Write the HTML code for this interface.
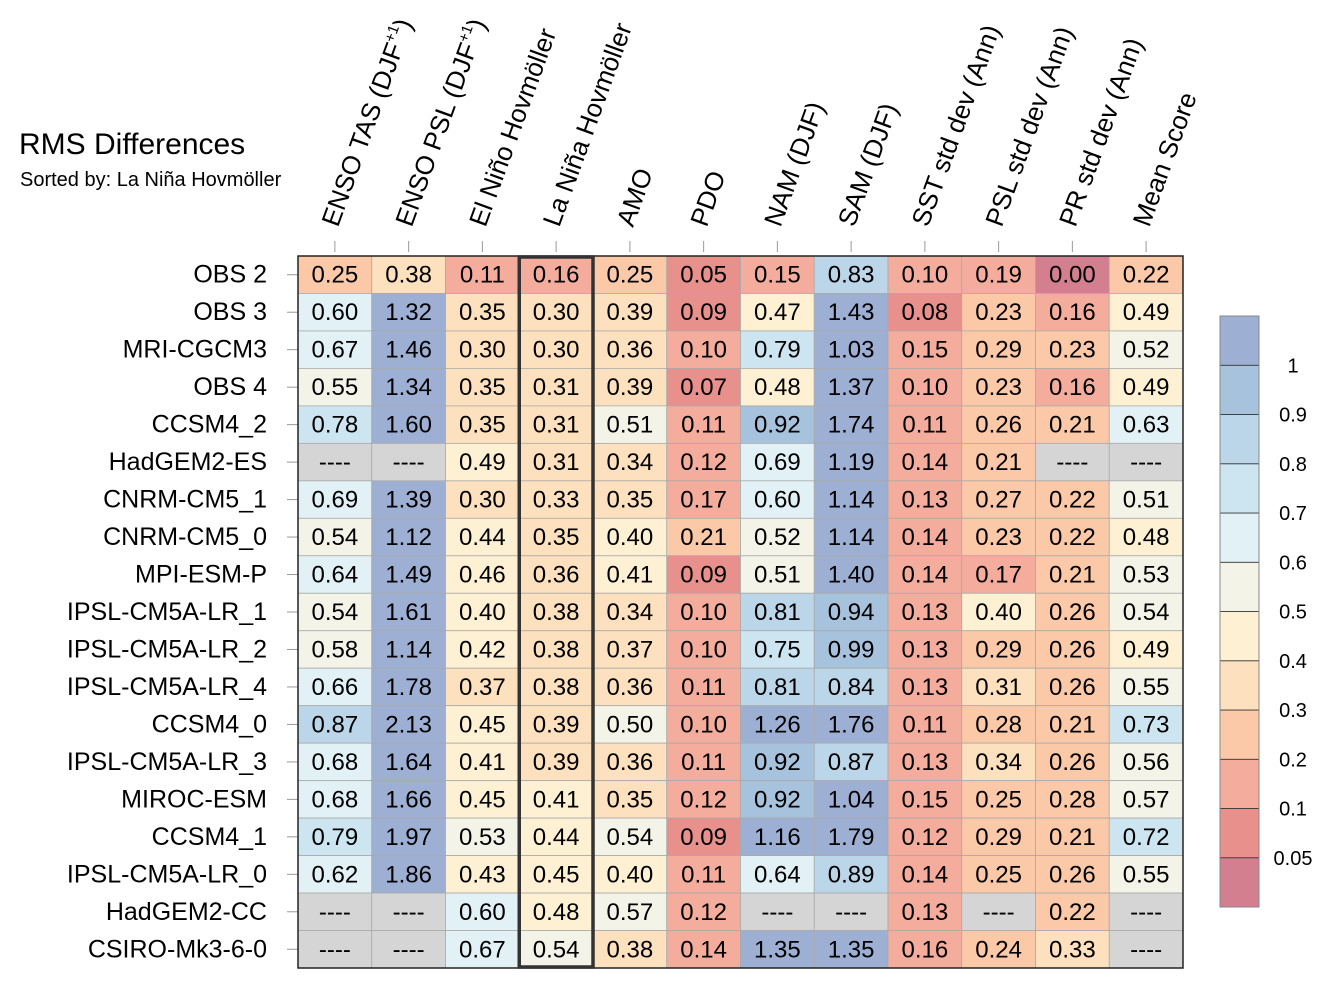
<!DOCTYPE html>
<html><head><meta charset="utf-8"><style>
body{margin:0;background:#fff;}
svg{font-family:"Liberation Sans",sans-serif;}
</style></head><body>
<svg id="chart" width="1335" height="989" xmlns="http://www.w3.org/2000/svg">
<text x="19" y="154" font-size="30">RMS Differences</text>
<text x="20" y="186" font-size="20">Sorted by: La Niña Hovmöller</text>
</svg>
<script>
const columns = ["ENSO TAS (DJF+1)","ENSO PSL (DJF+1)","El Niño Hovmöller","La Niña Hovmöller","AMO","PDO","NAM (DJF)","SAM (DJF)","SST std dev (Ann)","PSL std dev (Ann)","PR std dev (Ann)","Mean Score"];
const rows = ["OBS 2","OBS 3","MRI-CGCM3","OBS 4","CCSM4_2","HadGEM2-ES","CNRM-CM5_1","CNRM-CM5_0","MPI-ESM-P","IPSL-CM5A-LR_1","IPSL-CM5A-LR_2","IPSL-CM5A-LR_4","CCSM4_0","IPSL-CM5A-LR_3","MIROC-ESM","CCSM4_1","IPSL-CM5A-LR_0","HadGEM2-CC","CSIRO-Mk3-6-0"];
const values = [
[0.25,0.38,0.11,0.16,0.25,0.05,0.15,0.83,0.10,0.19,0.00,0.22],
[0.60,1.32,0.35,0.30,0.39,0.09,0.47,1.43,0.08,0.23,0.16,0.49],
[0.67,1.46,0.30,0.30,0.36,0.10,0.79,1.03,0.15,0.29,0.23,0.52],
[0.55,1.34,0.35,0.31,0.39,0.07,0.48,1.37,0.10,0.23,0.16,0.49],
[0.78,1.60,0.35,0.31,0.51,0.11,0.92,1.74,0.11,0.26,0.21,0.63],
[null,null,0.49,0.31,0.34,0.12,0.69,1.19,0.14,0.21,null,null],
[0.69,1.39,0.30,0.33,0.35,0.17,0.60,1.14,0.13,0.27,0.22,0.51],
[0.54,1.12,0.44,0.35,0.40,0.21,0.52,1.14,0.14,0.23,0.22,0.48],
[0.64,1.49,0.46,0.36,0.41,0.09,0.51,1.40,0.14,0.17,0.21,0.53],
[0.54,1.61,0.40,0.38,0.34,0.10,0.81,0.94,0.13,0.40,0.26,0.54],
[0.58,1.14,0.42,0.38,0.37,0.10,0.75,0.99,0.13,0.29,0.26,0.49],
[0.66,1.78,0.37,0.38,0.36,0.11,0.81,0.84,0.13,0.31,0.26,0.55],
[0.87,2.13,0.45,0.39,0.50,0.10,1.26,1.76,0.11,0.28,0.21,0.73],
[0.68,1.64,0.41,0.39,0.36,0.11,0.92,0.87,0.13,0.34,0.26,0.56],
[0.68,1.66,0.45,0.41,0.35,0.12,0.92,1.04,0.15,0.25,0.28,0.57],
[0.79,1.97,0.53,0.44,0.54,0.09,1.16,1.79,0.12,0.29,0.21,0.72],
[0.62,1.86,0.43,0.45,0.40,0.11,0.64,0.89,0.14,0.25,0.26,0.55],
[null,null,0.60,0.48,0.57,0.12,null,null,0.13,null,0.22,null],
[null,null,0.67,0.54,0.38,0.14,1.35,1.35,0.16,0.24,0.33,null]
];
const levels = [0.05,0.1,0.2,0.3,0.4,0.5,0.6,0.7,0.8,0.9,1];
const levelLabels = ["0.05","0.1","0.2","0.3","0.4","0.5","0.6","0.7","0.8","0.9","1"];
const palette = ["#d47f90","#e8908c","#f4ad9c","#fbc8a8","#fde0bd","#fdf0d3","#f3f3e8","#e2f1f6","#cce5f0","#bbd6e9","#a7c2dd","#9dafd3"];
const sortedCol = 3;

const NS="http://www.w3.org/2000/svg";
const svg=document.getElementById('chart');
const X0=298,X1=1183,Y0=256,Y1=968;
const cw=(X1-X0)/columns.length, rh=(Y1-Y0)/rows.length;
const xPos=i=>X0+i*cw, yPos=j=>Y0+j*rh;
function mk(t,a,p){const e=document.createElementNS(NS,t);for(const k in a)e.setAttribute(k,a[k]);(p||svg).appendChild(e);return e;}
function colorFor(v){let b=0;for(let k=0;k<levels.length;k++){if(v>=levels[k]-1e-9)b=k+1;}return palette[b];}

const cells=mk('g',{});


rows.forEach((r,j)=>{
  columns.forEach((c,i)=>{
    const v=values[j][i];
    const rc=mk('rect',{x:xPos(i),y:yPos(j),width:cw,height:rh,fill:v==null?'#d5d5d5':colorFor(v),stroke:'#aaa','stroke-width':0.8},cells);
    
    
    const t=mk('text',{x:xPos(i)+cw/2,y:yPos(j)+rh/2+8,'text-anchor':'middle','font-size':24},cells);
    
    
    t.textContent=v==null?'----':v.toFixed(2);
  });
  const tk=mk('line',{x1:X0-11,x2:X0,y1:yPos(j)+rh/2,y2:yPos(j)+rh/2,stroke:'#999','stroke-width':1});
  
  
  const lb=mk('text',{x:267,y:yPos(j)+rh/2+8,'text-anchor':'end','font-size':25});
  
  
  lb.textContent=r;
});
const fr=mk('rect',{x:X0,y:Y0,width:X1-X0,height:Y1-Y0,fill:'none',stroke:'#222','stroke-width':1.5});


const hl=mk('rect',{x:xPos(sortedCol),y:Y0+1,width:cw,height:Y1-Y0-2,fill:'none',stroke:'#333','stroke-width':3.5});



columns.forEach((c,i)=>{
  const cx=xPos(i)+cw/2;
  const tk=mk('line',{x1:cx,x2:cx,y1:241,y2:252,stroke:'#999','stroke-width':1});
  
  
  const t=mk('text',{x:0,y:0,'font-size':26,transform:`translate(${cx+3},228) rotate(-70)`});
  
  
  if(c.indexOf('DJF+1')>=0){
    t.appendChild(document.createTextNode(c.replace('+1)','')));
    const s=mk('tspan',{'font-size':15,dy:-11},t);s.textContent='+1';
    const s2=mk('tspan',{dy:11},t);s2.textContent=')';
  } else t.textContent=c;
});

// colorbar
const CX=1220,CW=39,CT=316,CB=907;
const nb=palette.length, bh=(CB-CT)/nb;
const cb=mk('g',{});


palette.forEach((p,k)=>{
  const y=CB-(k+1)*bh;
  const r=mk('rect',{x:CX,y:y,width:CW,height:bh,fill:p,stroke:'#333','stroke-width':0.8},cb);
  
  
});
mk('rect',{x:CX,y:CT,width:CW,height:CB-CT,fill:'none',stroke:'#888','stroke-width':1},cb);
levelLabels.forEach((l,k)=>{
  const y=CB-(k+1)*bh;
  const t=mk('text',{x:1293,y:y+7,'text-anchor':'middle','font-size':20},cb);
  
  
  t.textContent=l;
});
</script>
</body></html>
